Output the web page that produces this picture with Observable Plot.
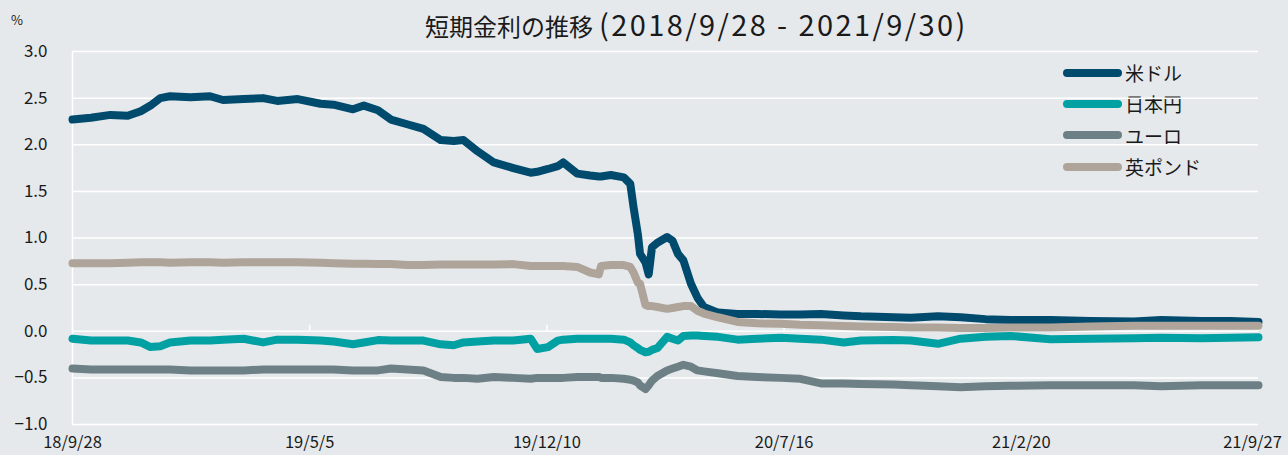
<!DOCTYPE html>
<html><head><meta charset="utf-8">
<script src="https://cdn.jsdelivr.net/npm/d3@7"></script>
<script src="https://cdn.jsdelivr.net/npm/@observablehq/plot@0.6"></script>
<style>
html,body{margin:0;padding:0;background:#e6e9ec;}
#wrap{position:relative;width:1288px;height:455px;overflow:hidden;background:#e6e9ec;font-family:"Noto Sans CJK JP","Noto Sans",sans-serif;color:#1a1a1a;}
#title{position:absolute;left:425px;top:3px;white-space:nowrap;font-size:24px;line-height:40px;}
#title .num{font-size:29px;letter-spacing:2.4px;margin-left:6px;}
#unit{position:absolute;left:11px;top:10px;font-size:13px;}
#legend{position:absolute;left:1063px;top:57px;}
.row{height:31.3px;display:flex;align-items:center;font-size:19px;}
.sw{width:59px;height:8px;border-radius:4px;margin-right:3px;}
#chart{position:absolute;left:0;top:0;}
</style></head>
<body><div id="wrap">
<div id="title"></div><div id="unit">%</div><div id="legend"></div><div id="chart"></div>
</div>
<script>
const titleMain = "短期金利の推移";
const titlePeriod = "(2018/9/28 - 2021/9/30)";
const seriesNames = ["米ドル", "日本円", "ユーロ", "英ポンド"];
const seriesColors = ["#004a6e", "#00a0a3", "#6d8086", "#aea49a"];
const xTickDates = ["2018-09-28","2019-05-05","2019-12-10","2020-07-16","2021-02-20","2021-09-27"];
const xTickLabels = ["18/9/28","19/5/5","19/12/10","20/7/16","21/2/20","21/9/27"];
const yTicks = [-1, -0.5, 0, 0.5, 1, 1.5, 2, 2.5, 3];

const dates = ["2018-09-28","2018-10-15","2018-11-02","2018-11-18","2018-11-30","2018-12-09","2018-12-18","2018-12-27",
"2019-01-15","2019-02-02","2019-02-14","2019-03-05","2019-03-23","2019-04-05","2019-04-24","2019-05-15","2019-05-27",
"2019-06-14","2019-06-24","2019-07-07","2019-07-19","2019-08-03","2019-08-18","2019-09-03","2019-09-15","2019-09-24",
"2019-10-07","2019-10-22","2019-11-09","2019-11-25","2019-12-01","2019-12-11","2019-12-20","2019-12-25","2020-01-07",
"2020-01-19","2020-01-27","2020-01-29","2020-02-07","2020-02-19","2020-02-25","2020-02-28","2020-03-03","2020-03-05",
"2020-03-10","2020-03-13","2020-03-16","2020-03-21","2020-03-30","2020-04-04","2020-04-09","2020-04-14","2020-04-21",
"2020-04-27","2020-05-03","2020-05-16","2020-06-03","2020-06-21","2020-07-13","2020-07-31","2020-08-19","2020-09-09",
"2020-09-25","2020-10-25","2020-11-10","2020-12-05","2020-12-26","2021-01-18","2021-02-10","2021-03-19","2021-04-25",
"2021-06-04","2021-06-29","2021-08-05","2021-09-01","2021-09-27"];

const usd = [2.27,2.29,2.32,2.31,2.36,2.42,2.50,2.52,2.51,2.52,2.48,2.49,2.50,2.47,2.49,2.44,2.43,2.38,2.42,2.37,2.27,2.22,2.17,2.05,2.04,2.05,
1.93,1.81,1.75,1.70,1.71,1.74,1.77,1.81,1.69,1.67,1.66,1.66,1.675,1.65,1.58,1.33,1.04,0.83,0.74,0.61,0.90,0.95,1.01,0.97,0.83,0.76,0.51,
0.36,0.26,0.20,0.185,0.185,0.18,0.18,0.185,0.17,0.16,0.15,0.145,0.16,0.15,0.13,0.12,0.12,0.11,0.105,0.12,0.11,0.11,0.10];

const jpy = [-0.08,-0.10,-0.10,-0.10,-0.12,-0.17,-0.16,-0.12,-0.10,-0.10,-0.09,-0.08,-0.12,-0.09,-0.09,-0.10,-0.11,-0.14,-0.12,-0.095,-0.10,-0.10,-0.10,-0.14,-0.15,-0.12,
-0.11,-0.10,-0.10,-0.08,-0.19,-0.17,-0.10,-0.09,-0.08,-0.08,-0.08,-0.08,-0.08,-0.09,-0.12,-0.15,-0.18,-0.20,-0.225,-0.22,-0.20,-0.18,-0.06,-0.08,-0.10,-0.05,-0.045,
-0.045,-0.05,-0.06,-0.09,-0.08,-0.07,-0.08,-0.09,-0.12,-0.10,-0.095,-0.10,-0.135,-0.08,-0.06,-0.05,-0.085,-0.08,-0.075,-0.07,-0.075,-0.07,-0.065];

const eur = [-0.40,-0.41,-0.41,-0.41,-0.41,-0.41,-0.41,-0.41,-0.42,-0.42,-0.42,-0.42,-0.41,-0.41,-0.41,-0.41,-0.41,-0.42,-0.42,-0.42,-0.40,-0.41,-0.42,-0.49,-0.50,-0.50,
-0.51,-0.49,-0.50,-0.51,-0.50,-0.50,-0.50,-0.50,-0.49,-0.49,-0.49,-0.50,-0.50,-0.51,-0.52,-0.53,-0.55,-0.58,-0.62,-0.58,-0.53,-0.48,-0.42,-0.40,-0.38,-0.36,-0.38,
-0.42,-0.43,-0.45,-0.48,-0.49,-0.50,-0.51,-0.56,-0.56,-0.565,-0.57,-0.58,-0.59,-0.60,-0.59,-0.585,-0.58,-0.58,-0.58,-0.59,-0.58,-0.58,-0.58];

const gbp = [0.73,0.73,0.73,0.735,0.74,0.74,0.74,0.735,0.74,0.74,0.735,0.74,0.74,0.74,0.74,0.735,0.73,0.725,0.725,0.72,0.72,0.71,0.71,0.715,0.715,0.715,
0.715,0.715,0.72,0.70,0.70,0.70,0.70,0.70,0.69,0.63,0.61,0.70,0.71,0.71,0.69,0.63,0.52,0.51,0.28,0.27,0.27,0.26,0.24,0.25,0.26,0.27,0.27,
0.22,0.19,0.15,0.10,0.085,0.08,0.07,0.065,0.055,0.05,0.045,0.04,0.04,0.035,0.035,0.04,0.04,0.05,0.06,0.06,0.06,0.06,0.06];

const values = [usd, jpy, eur, gbp];
const parse = d3.utcParse("%Y-%m-%d");
const rows = [];
seriesNames.forEach((name, s) => dates.forEach((d, i) => rows.push({series: name, date: parse(d), value: values[s][i]})));
const tickDates = xTickDates.map(parse);
const labelOf = new Map(tickDates.map((d, i) => [+d, xTickLabels[i]]));
const fmtY = d => d.toFixed(1).replace("-", "\u2212");

const title = document.getElementById("title");
title.innerHTML = `<span>${titleMain}</span><span class="num">${titlePeriod}</span>`;
const legend = document.getElementById("legend");
seriesNames.forEach((n, i) => {
  const r = document.createElement("div"); r.className = "row";
  r.innerHTML = `<span class="sw" style="background:${seriesColors[i]}"></span><span>${n}</span>`;
  legend.appendChild(r);
});

const axisOpts = {tickFormat: d => labelOf.get(+d), tickSize: 0, tickPadding: 12, fontSize: 16.5, label: null};
const chart = Plot.plot({
  width: 1288, height: 455,
  marginTop: 51, marginBottom: 31, marginLeft: 72, marginRight: 30,
  style: {background: "transparent", fontFamily: '"Noto Sans CJK JP","Noto Sans",sans-serif', color: "#1a1a1a"},
  x: {type: "utc", domain: [tickDates[0], tickDates[tickDates.length - 1]]},
  y: {domain: [-1, 3]},
  marks: [
    Plot.ruleY(yTicks, {stroke: "white", strokeWidth: 1.5}),
    Plot.ruleX([tickDates[0]], {stroke: "white", strokeWidth: 1.5}),
    Plot.ruleX(tickDates, {x: d => d, y1: 0, y2: 0.065, stroke: "white", strokeWidth: 1.5}),
    Plot.axisY({ticks: yTicks, tickFormat: fmtY, tickSize: 0, tickPadding: 25, fontSize: 17, label: null}),
    Plot.axisX({...axisOpts, ticks: tickDates.slice(0, -1)}),
    Plot.axisX({...axisOpts, ticks: tickDates.slice(-1), dx: -6}),
    ...seriesNames.map((n, i) => Plot.line(rows.filter(r => r.series === n), {x: "date", y: "value", stroke: seriesColors[i], strokeWidth: 8, strokeLinejoin: "round", strokeLinecap: "round"}))
  ]
});
document.getElementById("chart").appendChild(chart);
</script>
</body></html>
